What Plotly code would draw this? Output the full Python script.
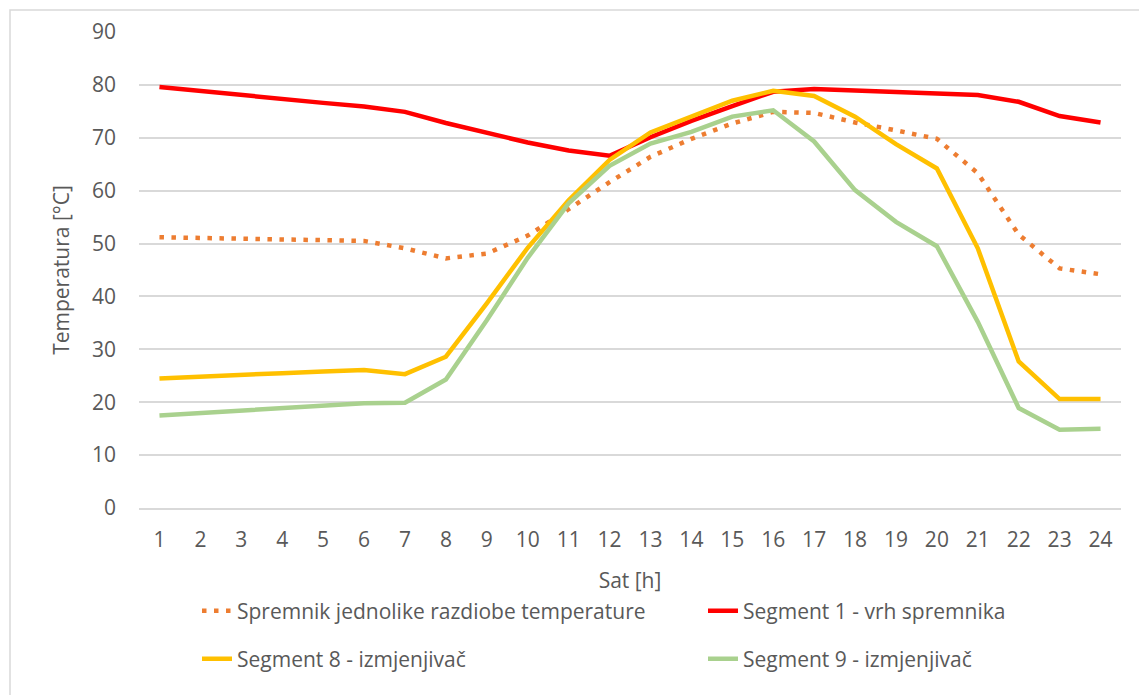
import plotly.graph_objects as go

hours = [1, 2, 3, 4, 5, 6, 7, 8, 9, 10, 11, 12, 13, 14, 15, 16, 17, 18, 19, 20, 21, 22, 23, 24]
tick_labels = [str(h) for h in hours]

spremnik = [51.2, 51.1, 50.9, 50.8, 50.7, 50.5, 49.1, 47.2, 48.1, 51.5, 56.5, 61.6,
            66.4, 69.8, 72.7, 74.9, 74.7, 72.9, 71.4, 69.8, 63.3, 51.7, 45.3, 44.2]
segment1 = [79.6, 78.8, 78.1, 77.3, 76.6, 75.9, 74.9, 72.8, 70.9, 69.1, 67.6, 66.6,
            70.1, 73.2, 76.0, 78.7, 79.2, 78.9, 78.6, 78.4, 78.1, 76.8, 74.1, 72.9]
segment8 = [24.5, 24.9, 25.2, 25.5, 25.8, 26.1, 25.3, 28.6, 38.7, 49.2, 58.2, 65.8,
            71.0, 74.1, 77.0, 78.9, 77.9, 74.0, 68.8, 64.2, 49.1, 27.7, 20.6, 20.6]
segment9 = [17.5, 18.0, 18.5, 19.0, 19.4, 19.8, 19.9, 24.3, 35.5, 47.3, 57.6, 64.7,
            68.9, 71.1, 74.0, 75.2, 69.3, 60.1, 54.1, 49.5, 35.2, 18.9, 14.8, 15.0]

names = ["Spremnik jednolike razdiobe temperature", "Segment 1 - vrh spremnika",
         "Segment 8 - izmjenjivač", "Segment 9 - izmjenjivač"]

FONT = "Open Sans"
TXT = "#595959"
GRID = "#D9D9D9"

fig = go.Figure()
fig.add_trace(go.Scatter(x=hours, y=spremnik, mode="lines", name=names[0], legend="legend",
                         line=dict(color="#ED7D31", width=4.5, dash="4.5px,7.5px")))
fig.add_trace(go.Scatter(x=hours, y=segment1, mode="lines", name=names[1], legend="legend2",
                         line=dict(color="#FF0000", width=4.5)))
fig.add_trace(go.Scatter(x=hours, y=segment8, mode="lines", name=names[2], legend="legend3",
                         line=dict(color="#FFC000", width=4.5)))
fig.add_trace(go.Scatter(x=hours, y=segment9, mode="lines", name=names[3], legend="legend4",
                         line=dict(color="#A9D18E", width=4.5)))

# page offset caused by the default body margin of the html page
OFF = 8
PAGE_W, PAGE_H = 1147, 695
W, H = PAGE_W - OFF, PAGE_H - OFF
# plot area in page pixels
P_LEFT, P_RIGHT, P_TOP, P_BOTTOM = 139, 1121, 32, 508
L = P_LEFT - OFF
T = P_TOP - OFF
R = W - (P_RIGHT - OFF)
B = H - (P_BOTTOM - OFF)
pw, ph = W - L - R, H - T - B

def px_x(p):
    return (p - P_LEFT) / pw

def px_y(p):
    return (P_BOTTOM - p) / ph

legend_common = dict(orientation="h", xanchor="left", yanchor="middle",
                     font=dict(family=FONT, size=21, color=TXT),
                     bgcolor="rgba(0,0,0,0)")

col1, col2 = 197, 703
row1, row2 = 611, 659

fig.update_layout(
    width=W, height=H,
    margin=dict(l=L, r=R, t=T, b=B, autoexpand=False),
    paper_bgcolor="white", plot_bgcolor="white",
    font=dict(family=FONT, size=21, color=TXT),
    showlegend=True,
    legend=dict(x=px_x(col1), y=px_y(row1), **legend_common),
    legend2=dict(x=px_x(col2), y=px_y(row1), **legend_common),
    legend3=dict(x=px_x(col1), y=px_y(row2), **legend_common),
    legend4=dict(x=px_x(col2), y=px_y(row2), **legend_common),
    xaxis=dict(range=[0.5, 24.5], tickmode="array", tickvals=hours, ticktext=tick_labels,
               showgrid=False, zeroline=False, showline=True, linecolor=GRID, linewidth=1.5,
               ticks="", ticklabelstandoff=12,
               title=dict(text="Sat [h]", font=dict(family=FONT, size=21, color=TXT), standoff=21)),
    yaxis=dict(range=[0, 90], dtick=10, showgrid=True, gridcolor=GRID, gridwidth=1.5,
               zeroline=False, showline=False, ticks="", ticklabelstandoff=22,
               title=dict(text="Temperatura [°C]", font=dict(family=FONT, size=21, color=TXT), standoff=16)),
    shapes=[dict(type="rect", xref="paper", yref="paper",
                 x0=px_x(10), x1=px_x(1170), y0=px_y(720), y1=px_y(10),
                 line=dict(color=GRID, width=1.5), fillcolor="rgba(0,0,0,0)", layer="below")],
)

fig.write_html("out.html")
